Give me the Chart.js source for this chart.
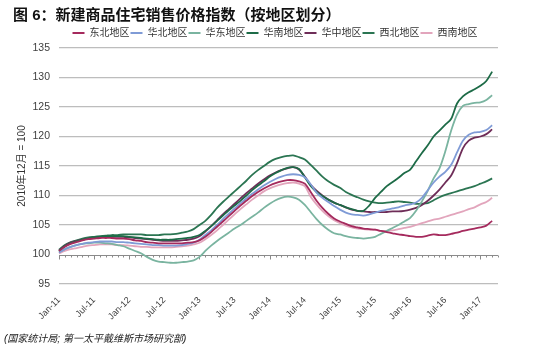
<!DOCTYPE html>
<html>
<head>
<meta charset="utf-8">
<script src="https://cdn.jsdelivr.net/npm/chart.js@4"></script>
<style>
  body { margin: 0; background: #fff; }
  #wrap { position: relative; width: 550px; height: 353px; overflow: hidden; }
  #title { position: absolute; left: 13px; top: 3px; font: bold 15px 'Liberation Sans', 'Noto Sans CJK SC', sans-serif; color: #111; white-space: nowrap; }
  #source { position: absolute; left: 4px; top: 330px; font: italic 10px 'Liberation Sans', 'Noto Sans CJK SC', sans-serif; color: #222; white-space: nowrap; }
  canvas { position: absolute; left: 0; top: 0; }
</style>
</head>
<body>
<div id="wrap">
  <canvas id="c" width="550" height="353"></canvas>
  <div id="title">图 6：新建商品住宅销售价格指数（按地区划分）</div>
  <div id="source">(国家统计局; 第一太平戴维斯市场研究部)</div>
</div>
<script>
// Monthly index, Dec 2010 = 100, Jan-11 .. Mar-17
const monthNames = ["Jan", "Feb", "Mar", "Apr", "May", "Jun", "Jul", "Aug", "Sep", "Oct", "Nov", "Dec"];
const years = [11, 12, 13, 14, 15, 16, 17];
const tickLabels = ["Jan-11", "Jul-11", "Jan-12", "Jul-12", "Jan-13", "Jul-13", "Jan-14",
  "Jul-14", "Jan-15", "Jul-15", "Jan-16", "Jul-16", "Jan-17"];

const seriesNames = ["东北地区", "华北地区", "华东地区", "华南地区", "华中地区", "西北地区", "西南地区"];
const seriesColors = ["#a52a5d", "#7f9bd6", "#7ab4a0", "#1d6b47", "#6e2d58", "#2b7552", "#e2a5bc"];

const dongbei = [
  100.6, 101.3, 101.8, 102.1, 102.4, 102.6, 102.7, 102.8, 102.8, 102.8, 102.7, 102.7,
  102.6, 102.4, 102.3, 102.1, 102.0, 101.9, 101.9, 101.9, 101.9, 101.9, 102.0, 102.1,
  102.4, 103.0, 103.8, 104.7, 105.6, 106.5, 107.4, 108.3, 109.1, 109.9, 110.6, 111.2,
  111.7, 112.1, 112.4, 112.6, 112.6, 112.4, 112.0, 110.6, 109.1, 107.9, 106.9, 106.1,
  105.6, 105.2, 104.8, 104.6, 104.4, 104.3, 104.2, 104.0, 103.8, 103.6, 103.4, 103.3,
  103.1, 103.0, 103.0, 103.2, 103.4, 103.3, 103.3, 103.5, 103.7, 104.0, 104.2, 104.4,
  104.6, 104.9, 105.7
];
const huabei = [
  100.3, 100.9, 101.3, 101.6, 101.8, 102.0, 102.1, 102.2, 102.2, 102.2, 102.1, 102.1,
  102.0, 101.9, 101.8, 101.7, 101.6, 101.6, 101.5, 101.5, 101.5, 101.6, 101.8, 102.0,
  102.5, 103.3, 104.1, 105.0, 106.0, 106.9, 107.8, 108.7, 109.5, 110.3, 111.0, 111.7,
  112.3, 112.8, 113.2, 113.5, 113.6, 113.5, 113.1, 111.9, 110.5, 109.6, 108.9, 108.2,
  107.6, 107.1, 106.8, 106.7, 106.6, 106.8, 107.1, 107.4, 107.6, 107.8, 108.0, 108.3,
  108.5, 108.8, 109.6, 110.9, 112.2, 113.2, 114.0, 115.2, 117.3, 119.3, 120.3, 120.7,
  120.8, 121.1, 121.9
];
const huadong = [
  100.4, 100.9, 101.3, 101.6, 101.8, 101.9, 102.0, 102.0, 101.9, 101.8, 101.6, 101.4,
  101.0, 100.6, 100.2, 99.6, 99.1, 98.8, 98.7, 98.6, 98.6, 98.7, 98.8, 99.0,
  99.6, 100.6, 101.5, 102.3, 103.0, 103.7, 104.4, 105.0, 105.7, 106.4, 107.1, 107.9,
  108.6, 109.2, 109.6, 109.8, 109.7, 109.3, 108.4, 107.2, 106.0, 105.0, 104.2, 103.6,
  103.4, 103.1, 102.9, 102.8, 102.7, 102.8, 103.0, 103.5, 104.0, 104.5, 105.0, 105.6,
  106.2, 107.4, 109.0, 110.8, 112.9, 114.6, 117.5, 121.0, 123.7, 125.2, 125.5, 125.7,
  125.8, 126.2, 127.0
];
const huanan = [
  100.6, 101.4, 101.9, 102.2, 102.5, 102.7, 102.9, 103.0, 103.1, 103.1, 103.1, 103.1,
  103.0, 102.9, 102.8, 102.7, 102.6, 102.5, 102.5, 102.5, 102.6, 102.7, 102.8, 103.0,
  103.3, 104.0, 104.8, 105.7, 106.6, 107.5, 108.3, 109.1, 110.0, 110.9, 111.7, 112.4,
  113.2, 113.8, 114.3, 114.7, 114.8, 114.5, 113.1, 111.6, 110.6, 109.9, 109.3, 108.8,
  108.4, 108.0, 107.7, 107.4, 107.4, 108.3, 109.6, 110.6, 111.6, 112.3, 113.0, 113.8,
  114.4, 115.8, 117.2, 118.5, 120.0, 121.0, 122.0, 123.0, 125.6, 126.8, 127.5, 128.0,
  128.6, 129.4, 131.0
];
const huazhong = [
  100.7, 101.5, 102.0, 102.3, 102.5, 102.7, 102.8, 102.9, 103.0, 103.0, 103.0, 103.0,
  102.9, 102.8, 102.7, 102.6, 102.5, 102.4, 102.3, 102.3, 102.3, 102.4, 102.5, 102.7,
  103.1, 103.9, 104.8, 105.8, 106.8, 107.7, 108.6, 109.5, 110.4, 111.2, 112.0, 112.7,
  113.4, 113.9, 114.3, 114.6, 114.8, 114.4, 113.2, 111.8, 110.8, 110.0, 109.3, 108.8,
  108.4, 108.0, 107.6, 107.4, 107.3, 107.2, 107.2, 107.2, 107.2, 107.3, 107.3, 107.4,
  107.6, 107.9, 108.4, 109.1, 110.0, 111.0, 112.2, 113.4, 115.5, 118.0, 119.3, 119.8,
  120.0, 120.4, 121.2
];
const xibei = [
  100.8, 101.6, 102.1, 102.4, 102.7, 102.9, 103.0, 103.1, 103.2, 103.3, 103.3, 103.4,
  103.4, 103.4, 103.4, 103.3, 103.3, 103.3, 103.4, 103.4, 103.5, 103.7, 103.9, 104.3,
  105.0, 105.7, 106.7, 107.9, 108.9, 109.8, 110.7, 111.6, 112.5, 113.5, 114.3, 115.0,
  115.7, 116.2, 116.5, 116.7, 116.8, 116.5, 116.1, 115.2, 114.2, 113.2, 112.4, 111.8,
  111.3, 110.6, 110.1, 109.7, 109.3, 109.0, 108.8, 108.7, 108.8, 108.9, 109.0, 108.9,
  108.8, 108.6, 108.6, 108.7, 109.2, 109.7, 110.1, 110.4, 110.7, 111.0, 111.3, 111.6,
  112.0, 112.4, 112.9
];
const xinan = [
  100.2, 100.6, 100.9, 101.1, 101.3, 101.5, 101.6, 101.7, 101.7, 101.7, 101.6, 101.6,
  101.5, 101.4, 101.3, 101.3, 101.2, 101.2, 101.2, 101.2, 101.3, 101.4, 101.5, 101.7,
  102.0, 102.6, 103.3, 104.1, 105.0, 105.9, 106.8, 107.7, 108.5, 109.3, 110.0, 110.7,
  111.2, 111.6, 111.9, 112.1, 112.2, 112.0, 111.6, 109.8, 108.5, 107.4, 106.5, 105.8,
  105.3, 104.9, 104.6, 104.4, 104.3, 104.2, 104.2, 104.0, 104.0, 104.1, 104.3, 104.5,
  104.7, 105.0, 105.3, 105.6, 105.9, 106.1, 106.4, 106.7, 107.0, 107.3, 107.7, 108.0,
  108.5, 108.9, 109.6
];
const seriesData = [dongbei, huabei, huadong, huanan, huazhong, xibei, xinan];

// monthly categories; one spare month (Apr-17) so the axis runs a little past the last point
const categories = [];
years.forEach(y => monthNames.forEach(m => categories.push(`${m}-${y}`)));
categories.length = categories.indexOf("Apr-17") + 1;

const cjk = "'Liberation Sans', 'Noto Sans CJK SC', sans-serif";

// axis line at 100 with monthly minor ticks and half-yearly major ticks
const axisAt100 = {
  id: "axisAt100",
  beforeDatasetsDraw(chart) {
    const { ctx, chartArea, scales: { x, y } } = chart;
    const py = Math.round(y.getPixelForValue(100)) + 0.5;
    ctx.save();
    ctx.strokeStyle = "#8a8a8a";
    ctx.lineWidth = 1;
    ctx.beginPath();
    ctx.moveTo(chartArea.left, py);
    ctx.lineTo(chartArea.right, py);
    categories.forEach((c, i) => {
      const px = Math.round(x.getPixelForValue(i)) + 0.5;
      ctx.moveTo(px, py);
      ctx.lineTo(px, py + (tickLabels.includes(c) ? 4 : 2));
    });
    ctx.stroke();
    ctx.restore();
  }
};

new Chart(document.getElementById("c"), {
  type: "line",
  data: {
    labels: categories,
    datasets: seriesNames.map((name, i) => ({
      label: name,
      data: seriesData[i],
      borderColor: seriesColors[i],
      backgroundColor: seriesColors[i],
      borderWidth: 1.8,
      pointRadius: 0,
      tension: 0.3,
      fill: false
    }))
  },
  options: {
    responsive: false,
    animation: false,
    devicePixelRatio: 1,
    layout: { padding: { top: 27, left: 0, right: 0, bottom: 0 } },
    plugins: {
      tooltip: { enabled: false },
      legend: {
        position: "top",
        labels: {
          boxWidth: 12,
          boxHeight: 2,
          padding: 1,
          color: "#333",
          font: { family: cjk, size: 10 },
          generateLabels: chart => Chart.defaults.plugins.legend.labels.generateLabels(chart)
            .map(l => ({ ...l, lineWidth: 0 }))
        }
      }
    },
    scales: {
      x: {
        type: "category",
        offset: false,
        grid: { display: false },
        border: { display: false },
        ticks: {
          autoSkip: false,
          maxRotation: 45,
          minRotation: 45,
          padding: 3,
          color: "#404040",
          font: { family: "'Liberation Sans', sans-serif", size: 9 },
          callback: (v, i) => tickLabels.includes(categories[i]) ? categories[i] : ""
        },
        afterFit: s => { s.height = 69; }
      },
      y: {
        min: 95,
        max: 135,
        ticks: {
          stepSize: 5,
          padding: 9,
          color: "#404040",
          font: { family: "'Liberation Sans', sans-serif", size: 10.5, lineHeight: 1 }
        },
        grid: {
          drawTicks: false,
          lineWidth: 1.2,
          color: ctx => ctx.tick && ctx.tick.value === 100 ? "rgba(0,0,0,0)" : "#bdbdbd"
        },
        border: { display: false },
        title: {
          display: true,
          text: "2010年12月 = 100",
          color: "#333",
          font: { family: cjk, size: 10 },
          padding: { top: 16, bottom: 0 }
        },
        afterFit: s => { s.width = 59; }
      },
      y2: {
        position: "right",
        min: 95,
        max: 135,
        grid: { display: false },
        border: { display: false },
        ticks: { display: false },
        afterFit: s => { s.width = 52; }
      }
    }
  },
  plugins: [axisAt100]
});
</script>
</body>
</html>
